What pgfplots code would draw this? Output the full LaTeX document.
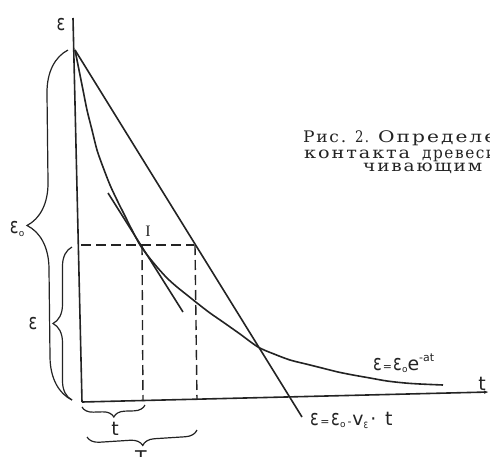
\documentclass[border=0pt]{standalone}
\usepackage{fontspec}
\usepackage{graphicx}
\usepackage{pgfplots}
\pgfplotsset{compat=1.18}
\usetikzlibrary{decorations.pathreplacing,arrows.meta}
\setmainfont{DejaVu Sans}
\newfontfamily\labfont{DejaVu Sans}
\newfontfamily\capfont{DejaVu Serif}[LetterSpace=10]
\newfontfamily\serifI{Liberation Serif}

\definecolor{ink}{RGB}{35,35,35}
% hand-lettered epsilon and its zero subscript
\newcommand{\E}{\scalebox{0.85}[1.15]{ε}}
\newcommand{\Eo}{\E\kern0.3pt\raisebox{-2.5pt}{\fontsize{9}{9}\selectfont o}}
% caption word set to a given width
\newcommand{\cw}[2]{\resizebox{#1bp}{\height}{#2}}

\begin{document}
\begin{tikzpicture}
\useasboundingbox (0,0) rectangle (490bp,457bp);
\clip (0,0) rectangle (490bp,457bp);
\begin{axis}[at={(0,0)}, anchor=south west, scale only axis,
  width=490bp, height=457bp,
  xmin=0, xmax=490, ymin=0, ymax=457, y dir=reverse,
  axis lines=none, clip=false,
  every axis plot/.append style={ink, line width=1.6bp, no markers}]

% axes epsilon and t
\addplot[ink] coordinates {(73,18) (82,402)};
\addplot[ink, -{Latex[length=5bp,width=3.5bp]}] coordinates {(82,402) (489,392)};

% epsilon = epsilon_0 - v t
\addplot[ink] coordinates {(75,50) (302,417)};

% epsilon = epsilon_0 e^{-at}
\addplot[ink, smooth] coordinates {
  (75,50) (79,70) (83,90) (87,110) (92,130) (97,150) (103,167) (110,185)
  (117,200) (124,214) (132,230) (140,245) (148,256) (157,267) (167,278)
  (177,287) (187,295) (197,303) (210,313) (223,322) (240,334) (258,347)
  (274,354) (290,360) (306,364) (322,368) (338,372) (353,375) (370,378)
  (387,381) (405,383) (420,384) (443,385)};

% tangent at point I
\addplot[ink] coordinates {(108,193) (183,312)};

% dashed construction lines
\addplot[ink, line width=1.4bp, dash pattern=on 10bp off 5bp] coordinates {(81,245) (194,245)};
\addplot[ink, line width=1.4bp, dash pattern=on 10bp off 5bp] coordinates {(142,245) (143,401)};
\addplot[ink, line width=1.4bp, dash pattern=on 10bp off 5bp] coordinates {(195,245) (197,400)};

% braces
\draw[ink, line width=1.2bp, decorate, decoration={brace, amplitude=43bp}]
  (axis cs:72,400) -- (axis cs:68,50);
\draw[ink, line width=1.2bp, decorate, decoration={brace, amplitude=19bp}]
  (axis cs:72,400) -- (axis cs:72,247);
\draw[ink, line width=1.2bp, decorate, decoration={brace, amplitude=11bp}]
  (axis cs:145,405) -- (axis cs:82,407);
\draw[ink, line width=1.2bp, decorate, decoration={brace, amplitude=12bp}]
  (axis cs:197,430) -- (axis cs:87,437);

% labels
\begin{scope}[every node/.style={ink, inner sep=0pt, font=\labfont\fontsize{19}{19}\selectfont}]
\node at (axis cs:61,25) {\E};
\node at (axis cs:17,229) {\Eo};
\node at (axis cs:33,324) {\E};
\node at (axis cs:482,384) {t};
\node at (axis cs:115,429) {t};
\node[anchor=north] at (axis cs:141,450) {T};
\node[font=\serifI\fontsize{16}{16}\selectfont] at (axis cs:148,231) {I};
\node[anchor=base west] at (axis cs:373,370)
  {\E\kern1pt{\fontsize{11}{11}\selectfont =}\kern1pt\Eo e\raisebox{9pt}{\fontsize{11}{11}\selectfont -at}};
\node[anchor=base west] at (axis cs:310,425)
  {\E\kern1.5pt{\fontsize{11}{11}\selectfont =}\kern1.5pt\Eo\kern2pt{\fontsize{11}{11}\selectfont -}\kern1pt v\raisebox{-4pt}{\fontsize{10}{10}\selectfont\scalebox{0.85}[1.15]{ε}}\kern2pt·\kern9pt t};
\end{scope}

% caption
\begin{scope}[every node/.style={ink, inner sep=0pt, anchor=base west, font=\capfont\fontsize{16}{16}\selectfont}]
\node at (axis cs:303,142) {\cw{43}{Рис.}};
\node at (axis cs:355,142) {\cw{14}{2.}};
\node at (axis cs:378,142) {\cw{118}{Определе}};
\node at (axis cs:304,158) {\cw{106}{контакта}};
\node at (axis cs:422,158) {\cw{74}{древеси}};
\node at (axis cs:363,171) {\cw{119}{чивающим}};
\end{scope}
\end{axis}
\end{tikzpicture}
\end{document}
